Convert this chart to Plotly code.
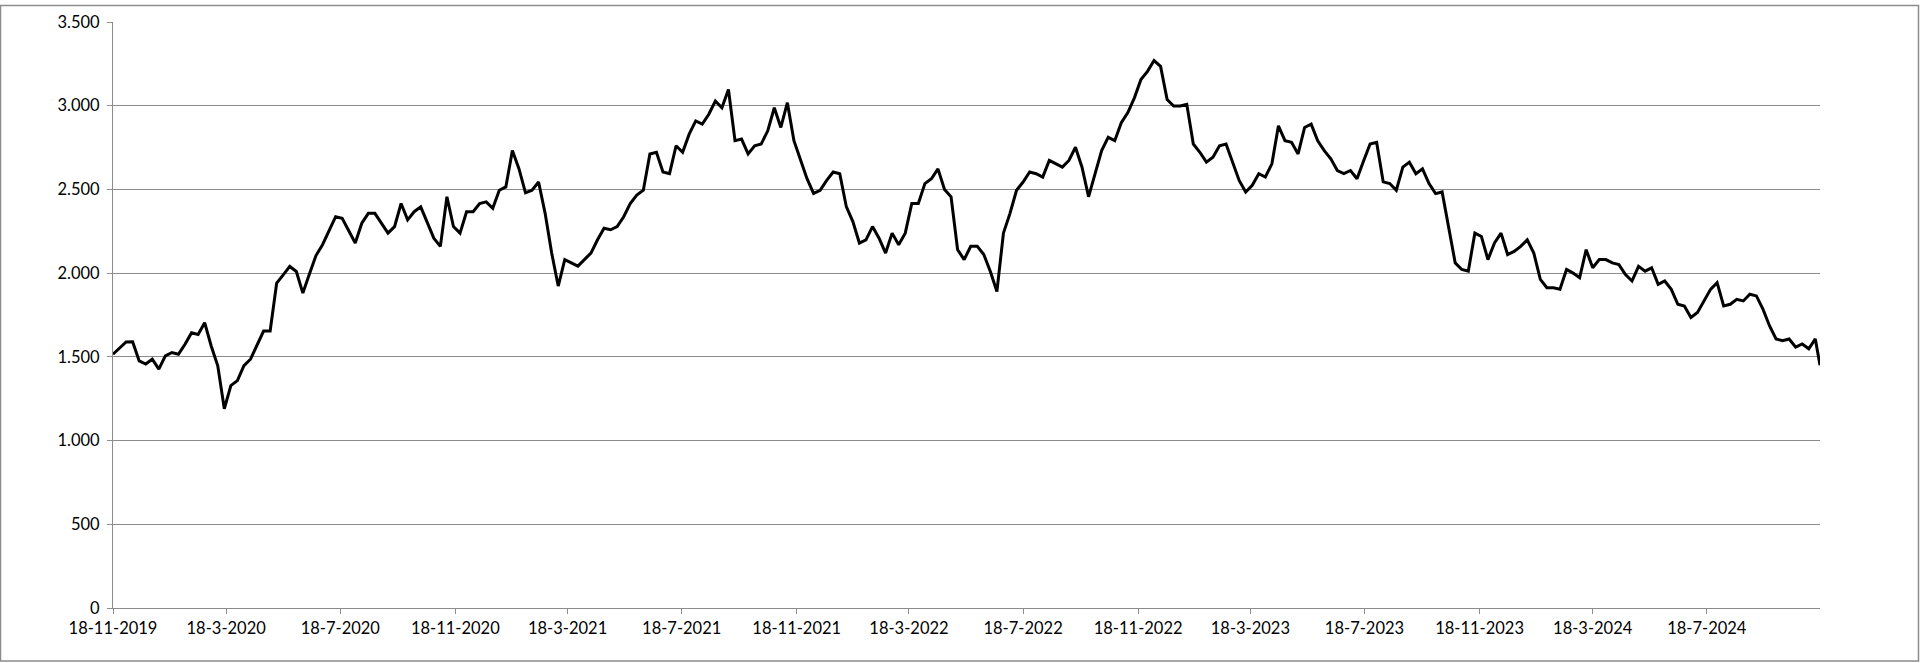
import pandas as pd
import plotly.graph_objects as go

# weekly closing values, first week starts 18-11-2019
week_start = "2019-11-18"
values = [
    1516, 1555, 1589, 1590, 1476, 1457, 1486, 1427, 1506, 1526,
    1516, 1575, 1644, 1634, 1704, 1565, 1447, 1190, 1328, 1358,
    1447, 1486, 1565, 1654, 1654, 1941, 1990, 2040, 2010, 1881,
    1995, 2105, 2170, 2258, 2337, 2327, 2258, 2180, 2298, 2357,
    2357, 2298, 2239, 2278, 2416, 2318, 2367, 2396, 2298, 2209,
    2160, 2456, 2278, 2239, 2367, 2367, 2416, 2426, 2387, 2495,
    2515, 2732, 2624, 2480, 2495, 2544, 2357, 2120, 1923, 2081,
    2061, 2042, 2081, 2120, 2199, 2268, 2259, 2278, 2337, 2416,
    2466, 2495, 2712, 2722, 2604, 2594, 2761, 2722, 2830, 2909,
    2890, 2949, 3028, 2988, 3097, 2791, 2801, 2712, 2761, 2771,
    2850, 2988, 2870, 3018, 2791, 2673, 2564, 2476, 2495, 2554,
    2604, 2594, 2397, 2308, 2180, 2199, 2278, 2209, 2120, 2239,
    2170, 2239, 2416, 2416, 2535, 2564, 2623, 2500, 2456, 2140,
    2081, 2160, 2160, 2111, 2010, 1890, 2239, 2357, 2495, 2544,
    2604, 2594, 2574, 2673, 2653, 2633, 2673, 2752, 2633, 2456,
    2594, 2732, 2811, 2791, 2899, 2959, 3047, 3156, 3205, 3270,
    3235, 3037, 2998, 2998, 3008, 2771, 2722, 2663, 2692, 2761,
    2771, 2663, 2554, 2485, 2525, 2594, 2574, 2653, 2880, 2791,
    2781, 2712, 2870, 2890, 2791, 2732, 2683, 2613, 2594, 2613,
    2564, 2670, 2771, 2781, 2545, 2535, 2495, 2633, 2663, 2594,
    2623, 2535, 2475, 2485, 2278, 2061, 2022, 2012, 2239, 2219,
    2081, 2180, 2239, 2111, 2130, 2160, 2199, 2120, 1963, 1913,
    1913, 1904, 2022, 2000, 1972, 2140, 2032, 2081, 2081, 2061,
    2051, 1992, 1953, 2041, 2012, 2032, 1933, 1953, 1903, 1814,
    1804, 1735, 1765, 1834, 1903, 1943, 1804, 1814, 1844, 1834,
    1874, 1864, 1785, 1686, 1607, 1597, 1607, 1558, 1577, 1548,
    1607,
]
last_date = "2024-11-16"
last_value = 1450

tick_dates = [
    "2019-11-18", "2020-03-18", "2020-07-18", "2020-11-18", "2021-03-18",
    "2021-07-18", "2021-11-18", "2022-03-18", "2022-07-18", "2022-11-18",
    "2023-03-18", "2023-07-18", "2023-11-18", "2024-03-18", "2024-07-18",
]
tick_labels = [
    "18-11-2019", "18-3-2020", "18-7-2020", "18-11-2020", "18-3-2021",
    "18-7-2021", "18-11-2021", "18-3-2022", "18-7-2022", "18-11-2022",
    "18-3-2023", "18-7-2023", "18-11-2023", "18-3-2024", "18-7-2024",
]

dates = list(pd.date_range(week_start, periods=len(values), freq="7D"))
dates.append(pd.Timestamp(last_date))
series = values + [last_value]

grid = "#8c8c8c"
font = dict(family="Lato, Open Sans, sans-serif", size=16.5, color="#000000")

fig = go.Figure()
fig.add_trace(go.Scatter(
    x=dates, y=series, mode="lines",
    line=dict(color="#000000", width=3),
    showlegend=False,
))

fig.update_layout(
    width=1920, height=663, autosize=False,
    margin=dict(l=113, r=100, t=17, b=55),
    paper_bgcolor="white", plot_bgcolor="white",
    separators=",.",
    font=font,
    xaxis=dict(
        type="date",
        range=[week_start, last_date],
        tickmode="array", tickvals=tick_dates, ticktext=tick_labels,
        showgrid=False, showline=True, linecolor=grid, linewidth=1,
        ticks="outside", ticklen=5, tickcolor=grid, tickwidth=1,
        tickfont=font,
    ),
    yaxis=dict(
        range=[0, 3500], dtick=500, tickformat=",d",
        showgrid=True, gridcolor=grid, gridwidth=1,
        zeroline=False, showline=True, linecolor=grid, linewidth=1,
        ticks="outside", ticklen=5, tickcolor=grid, tickwidth=1,
        ticklabelstandoff=4,
        tickfont=font,
    ),
    shapes=[dict(
        type="rect", xref="paper", yref="paper",
        x0=-0.0659, x1=1.0577, y0=-0.0905, y1=1.028,
        line=dict(color=grid, width=1.5), fillcolor="rgba(0,0,0,0)",
    )],
)

# drop the default page margin so the chart sits at the window corner
fig.write_html(
    "out.html",
    config={"displayModeBar": False},
    post_script="document.body.style.margin='0';",
)
